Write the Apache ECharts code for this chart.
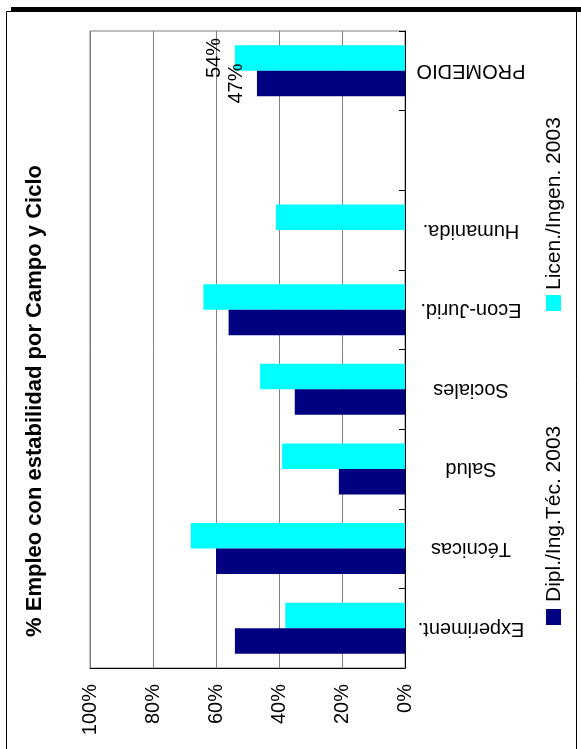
<!DOCTYPE html>
<html>
<head>
<meta charset="utf-8">
<script src="https://cdn.jsdelivr.net/npm/echarts@6/dist/echarts.min.js"></script>
<style>
html,body{margin:0;padding:0;background:#fff;}
#chart{width:581px;height:749px;}
</style>
</head>
<body>
<div id="chart"></div>
<script>
const categories = ['Experiment.', 'Técnicas', 'Salud', 'Sociales', 'Econ-Jurid.', 'Humanida.', '', 'PROMEDIO'];
const diplValues = [54, 60, 21, 35, 56, null, null, 47];
const licenValues = [38, 68, 39, 46, 64, 41, null, 54];
const valueTicks = [0, 20, 40, 60, 80, 100];
const seriesNames = ['Dipl./Ing.Téc. 2003', 'Licen./Ingen. 2003'];
const titleText = '% Empleo con estabilidad por Campo y Ciclo';
const labeledCategory = 'PROMEDIO';

const FONT = '"Liberation Sans", Arial, sans-serif';
const NAVY = '#000080';
const CYAN = '#00FFFF';

function buildData(values) {
  return values.map((v, i) => {
    if (categories[i] === labeledCategory) {
      return { value: v, label: { show: true } };
    }
    return v;
  });
}

const barLabel = {
  show: false,
  position: 'left',
  distance: 10,
  rotate: 90,
  align: 'center',
  verticalAlign: 'bottom',
  formatter: '{c}%',
  fontSize: 20,
  fontFamily: FONT,
  color: '#000'
};

const chart = echarts.init(document.getElementById('chart'), null, { renderer: 'canvas' });
chart.setOption({
  animation: false,
  backgroundColor: '#fff',
  grid: {
    left: 90, right: 176, top: 31, bottom: 81,
    show: true, borderColor: '#808080', borderWidth: 1, backgroundColor: 'transparent'
  },
  xAxis: {
    type: 'value',
    min: valueTicks[0],
    max: valueTicks[valueTicks.length - 1],
    interval: valueTicks[1] - valueTicks[0],
    inverse: true,
    position: 'bottom',
    axisLine: { show: true, lineStyle: { color: '#000', width: 1 } },
    axisTick: { show: false },
    splitLine: { show: true, lineStyle: { color: '#808080', width: 1 } },
    axisLabel: {
      formatter: '{value}%',
      rotate: 90,
      margin: 16,
      fontSize: 20,
      fontFamily: FONT,
      color: '#000'
    }
  },
  yAxis: {
    type: 'category',
    data: categories,
    position: 'right',
    axisLine: { show: true, lineStyle: { color: '#000', width: 1 } },
    axisTick: { show: true, inside: true, length: 6, lineStyle: { color: '#000' } },
    splitLine: { show: false },
    axisLabel: {
      rotate: 180,
      align: 'center',
      margin: 66,
      fontSize: 20,
      fontFamily: FONT,
      color: '#000',
      interval: 0
    }
  },
  series: [
    {
      name: seriesNames[1],
      type: 'bar',
      data: buildData(licenValues),
      itemStyle: { color: CYAN },
      barGap: '0%',
      barCategoryGap: '36%',
      label: barLabel
    },
    {
      name: seriesNames[0],
      type: 'bar',
      data: buildData(diplValues),
      itemStyle: { color: NAVY },
      barGap: '0%',
      barCategoryGap: '36%',
      label: barLabel
    }
  ],
  graphic: [
    { type: 'rect', shape: { x: 6.5, y: 11.5, width: 570, height: 745 }, style: { fill: 'none', stroke: '#000', lineWidth: 1 }, silent: true },
    { type: 'rect', shape: { x: 11, y: 7, width: 570, height: 5 }, style: { fill: '#000' }, silent: true },
    {
      type: 'text', x: 35, y: 401, rotation: Math.PI / 2,
      style: { text: titleText, x: 0, y: 0, textAlign: 'center', textVerticalAlign: 'middle',
        font: 'bold 22px ' + FONT, fill: '#000' }
    },
    { type: 'rect', shape: { x: 546, y: 609, width: 15, height: 16 }, style: { fill: NAVY } },
    {
      type: 'text', x: 554, y: 602, rotation: Math.PI / 2,
      style: { text: seriesNames[0], x: 0, y: 0, textAlign: 'left', textVerticalAlign: 'middle',
        font: '21px ' + FONT, fill: '#000' }
    },
    { type: 'rect', shape: { x: 546, y: 295, width: 15, height: 16 }, style: { fill: CYAN } },
    {
      type: 'text', x: 554, y: 290, rotation: Math.PI / 2,
      style: { text: seriesNames[1], x: 0, y: 0, textAlign: 'left', textVerticalAlign: 'middle',
        font: '21px ' + FONT, fill: '#000' }
    }
  ]
});
</script>
</body>
</html>
